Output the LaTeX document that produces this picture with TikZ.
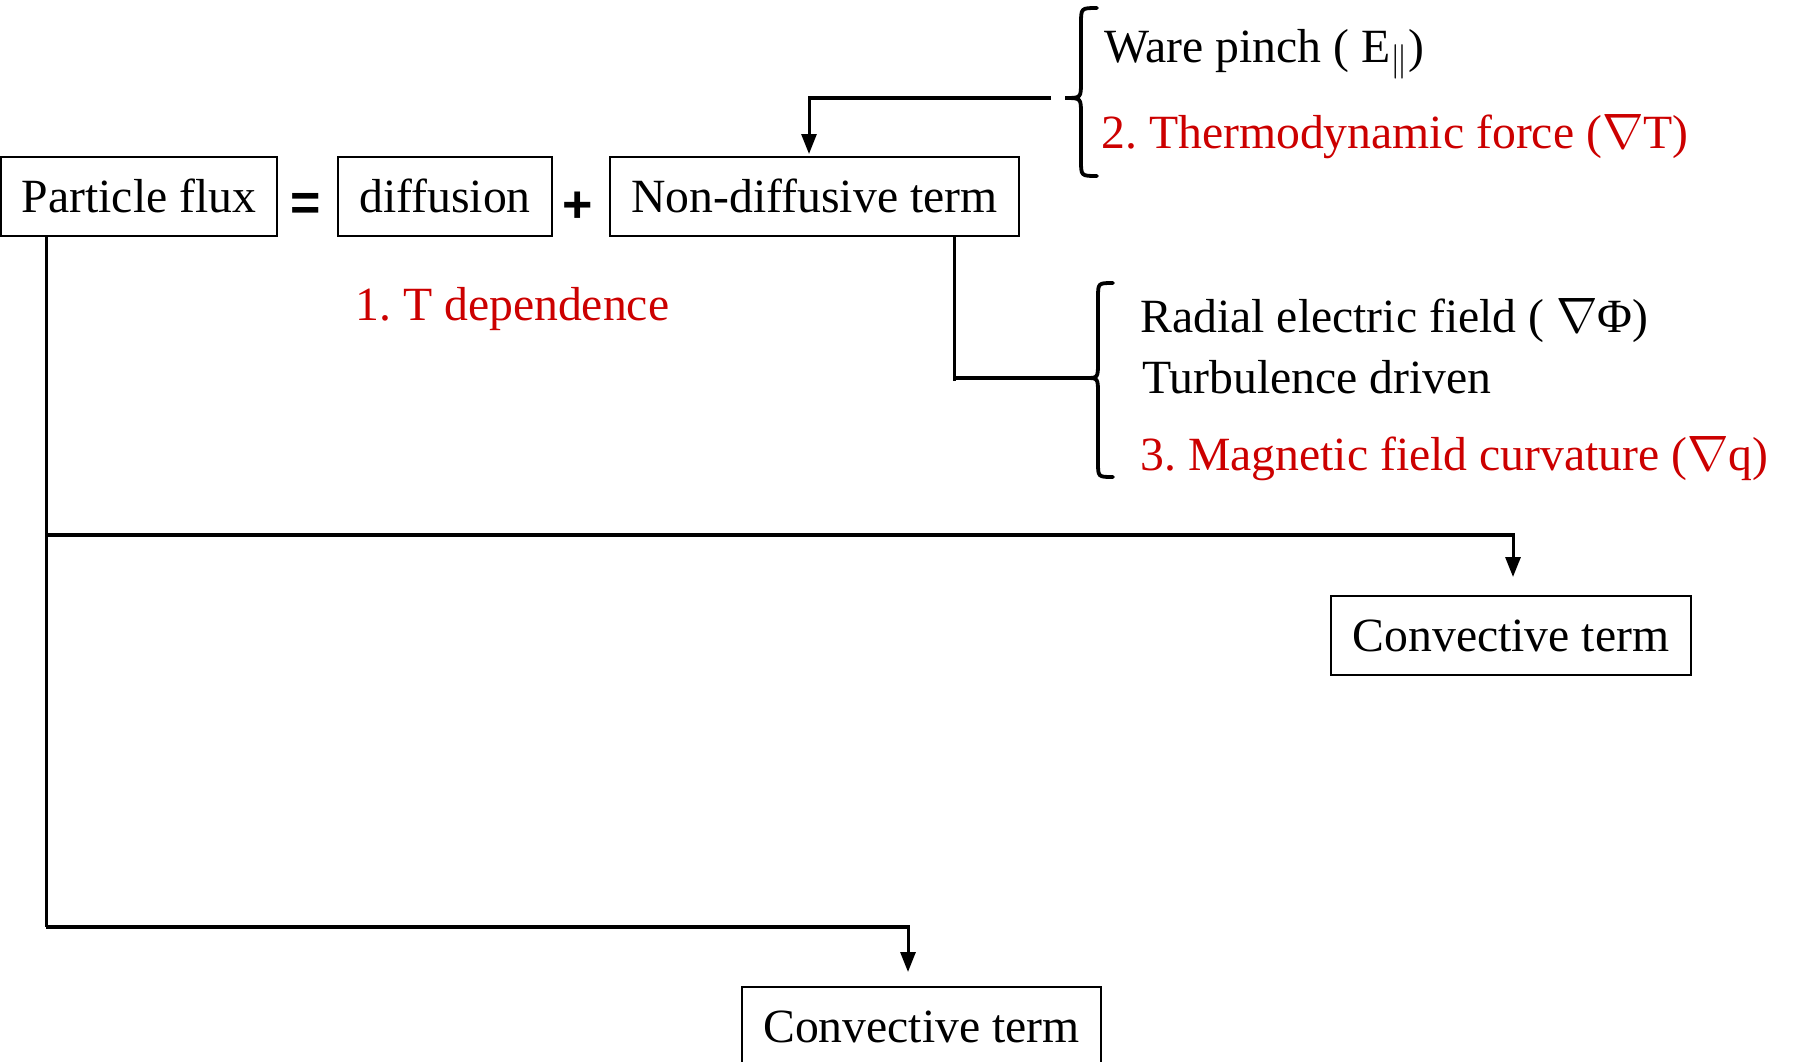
\documentclass[tikz,border=0pt]{standalone}
\usepackage{fontspec}
\setmainfont{Liberation Serif}
\newfontfamily\symsans{Liberation Sans}
\usetikzlibrary{arrows.meta}
\definecolor{myred}{RGB}{204,0,0}
\newcommand\bigtext{\fontsize{23.85}{28}\selectfont\frenchspacing}
\begin{document}
\begin{tikzpicture}[x=0.5pt,y=-0.5pt,
  box/.style={draw, line width=1pt, minimum width=#1, minimum height=39.5pt,
              inner sep=0pt, text height=16.8pt, text depth=0.4pt, font=\bigtext},
  sym/.style={inner sep=0pt, font=\symsans\bfseries\fontsize{26}{28}\selectfont},
  lbl/.style={inner sep=0pt, anchor=base west, font=\bigtext},
  redlbl/.style={lbl, text=myred},
  hline/.style={line width=1.9pt},
  vline/.style={line width=1.5pt},
  arr/.style={line width=1.5pt, -{Triangle[length=10pt,width=7.5pt]}},
  bracestyle/.style={line width=1.9pt, line cap=round}
]
\useasboundingbox (0,0) rectangle (1795,1061);
\begin{scope}
\clip (0,0) rectangle (1795,1061);

% main row
\node[box=138pt] (pf) at (139,196.5) {Particle flux};
\node[sym] (eq) at (306,207) {=};
\node[box=107pt] (diff) at (445,196.5) {diffusion};
\node[sym] (plus) at (578,207) {+};
\node[box=204.5pt] (nd) at (814.5,196.5) {Non-diffusive term};
\node[redlbl] (tdep) at (355,320) {1. T dependence};

% top brace group
\node[lbl] (ware) at (1104,62) {Ware pinch ( E$_{\|}$)};
\node[redlbl] (thermo) at (1101,148) {2. Thermodynamic force ($\nabla$T)};
\draw[bracestyle] (1097,8) .. controls (1081,8) .. (1081,24) -- (1081,82)
  .. controls (1081,98) .. (1065,98) coordinate (b1tip)
  .. controls (1081,98) .. (1081,114) -- (1081,160)
  .. controls (1081,176) .. (1097,176);
\coordinate (b1end) at (1051,98);
\coordinate (k1) at (809,98);
\draw[hline] (b1end) -- ([xshift=-0.75pt]k1);
\draw[arr] (k1) -- ([yshift=1pt]k1 |- nd.north);

% lower brace group
\node[lbl] (radial) at (1140,332) {Radial electric field ( $\nabla$Φ)};
\node[lbl] (turb) at (1142,393) {Turbulence driven};
\node[redlbl] (mag) at (1140,470) {3. Magnetic field curvature ($\nabla$q)};
\draw[bracestyle] (1113,283) .. controls (1098,283) .. (1098,298) -- (1098,362)
  .. controls (1098,378) .. (1086,378) coordinate (b2tip)
  .. controls (1098,378) .. (1098,394) -- (1098,462)
  .. controls (1098,477) .. (1113,477);
\coordinate (k2) at (954,378);
\draw[vline] (k2 |- nd.south) -- ([yshift=-1.5pt]k2);
\draw[hline] (k2) -- (b2tip);

% convective branches
\node[box=180pt] (cv1) at (1511,635.5) {Convective term};
\node[box=179.5pt] (cv2) at (921.5,1026.5) {Convective term};
\coordinate (j0) at (46,236);
\coordinate (j1) at (46,535);
\coordinate (j2) at (46,927);
\coordinate (c1) at (1513,535);
\coordinate (c2) at (908,927);
\draw[vline] (pf.south -| j0) -- (j2);
\draw[hline] (j1) -- ([xshift=0.75pt]c1);
\draw[arr] (c1) -- ([yshift=9pt]c1 |- cv1.north);
\draw[hline] (j2) -- ([xshift=0.75pt]c2);
\draw[arr] (c2) -- ([yshift=7pt]c2 |- cv2.north);
\end{scope}
\end{tikzpicture}
\end{document}
